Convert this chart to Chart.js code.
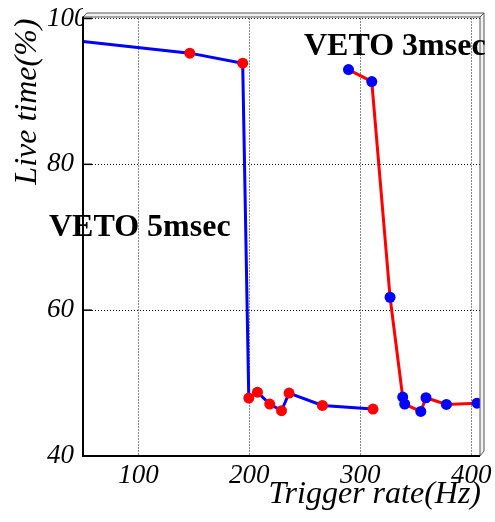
<!DOCTYPE html>
<html>
<head>
<meta charset="utf-8">
<style>
  html, body { margin: 0; padding: 0; background: #fff; }
</style>
</head>
<body>
<canvas id="liveTime" width="495" height="522"></canvas>
<script src="https://cdn.jsdelivr.net/npm/chart.js"></script>
<script>
  // VETO 5msec run: first entry is where the curve leaves the frame (no marker)
  const veto5Rate = [50, 146.3, 194.0, 199.5, 207.3, 218.4, 229.0, 235.8, 265.9, 311.5];
  const veto5Live = [96.84, 95.25, 93.87, 47.95, 48.76, 47.12, 46.21, 48.63, 46.94, 46.43];

  // VETO 3msec run
  const veto3Rate = [289.4, 310.4, 326.9, 338.3, 340.1, 354.6, 359.3, 377.7, 405.3];
  const veto3Live = [92.99, 91.35, 61.77, 48.08, 47.12, 46.11, 47.99, 47.07, 47.25];

  const xTicks = [100, 200, 300, 400];
  const yTicks = [40, 60, 80, 100];

  const serif = "'Liberation Serif', 'Times New Roman', serif";

  function toPoints(xs, ys) {
    return xs.map((x, i) => ({ x: x, y: ys[i] }));
  }

  // frame, inside tick marks, axis titles and labels
  const framePlugin = {
    id: "frame",
    afterDatasetsDraw(chart) {
      const { ctx, chartArea: a, scales } = chart;
      const l = a.left, r = a.right, t = a.top, b = a.bottom;
      ctx.save();

      // bevelled top and right edge
      ctx.lineWidth = 1;
      ctx.strokeStyle = "#555";
      ctx.fillStyle = "#f2f2f2";
      ctx.beginPath();
      ctx.moveTo(l, t - 1.5);
      ctx.lineTo(l + 4, t - 5.5);
      ctx.lineTo(r + 4, t - 5.5);
      ctx.lineTo(r, t - 1.5);
      ctx.closePath();
      ctx.fill();
      ctx.stroke();
      ctx.beginPath();
      ctx.moveTo(r, t - 1.5);
      ctx.lineTo(r + 4, t - 5.5);
      ctx.lineTo(r + 4, b - 5);
      ctx.lineTo(r, b);
      ctx.closePath();
      ctx.fill();
      ctx.stroke();

      // axes
      ctx.strokeStyle = "#000";
      ctx.lineWidth = 2;
      ctx.beginPath();
      ctx.moveTo(l, t - 2);
      ctx.lineTo(l, b);
      ctx.lineTo(r, b);
      ctx.stroke();

      // y tick marks point inward
      ctx.lineWidth = 1.5;
      yTicks.forEach(v => {
        const py = scales.y.getPixelForValue(v);
        ctx.beginPath();
        ctx.moveTo(l, py);
        ctx.lineTo(l + 9, py);
        ctx.stroke();
      });

      ctx.fillStyle = "#000";
      ctx.font = "italic 32px " + serif;
      ctx.textAlign = "right";
      ctx.textBaseline = "alphabetic";
      ctx.fillText("Trigger rate(Hz)", r + 1, 503);

      ctx.save();
      ctx.translate(36, t);
      ctx.rotate(-Math.PI / 2);
      ctx.fillText("Live time(%)", 0, 0);
      ctx.restore();

      ctx.font = "bold 32px " + serif;
      ctx.textAlign = "left";
      ctx.fillText("VETO 5msec", 49, 236);
      ctx.fillText("VETO 3msec", 304, 55);

      ctx.restore();
    }
  };

  new Chart(document.getElementById("liveTime"), {
    type: "line",
    data: {
      datasets: [
        {
          label: "VETO 5msec",
          data: toPoints(veto5Rate, veto5Live),
          borderColor: "#0000ff",
          borderWidth: 3,
          backgroundColor: "#ff0000",
          pointBackgroundColor: "#ff0000",
          pointBorderWidth: 0,
          pointRadius: c => (c.dataIndex === 0 ? 0 : 5.5),
          tension: 0,
          clip: false,
        },
        {
          label: "VETO 3msec",
          data: toPoints(veto3Rate, veto3Live),
          borderColor: "#ff0000",
          borderWidth: 3,
          backgroundColor: "#0000ff",
          pointBackgroundColor: "#0000ff",
          pointBorderWidth: 0,
          pointRadius: 5.5,
          tension: 0,
          clip: false,
        },
      ],
    },
    options: {
      responsive: false,
      animation: false,
      layout: { padding: { left: 47, right: 15, top: 18.5, bottom: 0 } },
      plugins: {
        legend: { display: false },
        tooltip: { enabled: false },
      },
      scales: {
        x: {
          type: "linear",
          min: 50,
          max: 408,
          afterBuildTicks: s => { s.ticks = xTicks.map(v => ({ value: v })); },
          afterFit: s => { s.height = 66; s.paddingLeft = 0; s.paddingRight = 0; },
          grid: { color: "#111", lineWidth: 1, drawTicks: false },
          border: { display: false, dash: [1, 2] },
          ticks: {
            padding: 4,
            color: "#000",
            font: { family: serif, style: "italic", size: 27 },
          },
        },
        y: {
          type: "linear",
          min: 40,
          max: 100,
          afterBuildTicks: s => { s.ticks = yTicks.map(v => ({ value: v })); },
          afterFit: s => { s.width = 36; s.paddingTop = 0; s.paddingBottom = 0; },
          grid: { color: "#111", lineWidth: 1, drawTicks: false },
          border: { display: false, dash: [1, 2] },
          ticks: {
            crossAlign: "far",
            padding: 0,
            color: "#000",
            font: { family: serif, style: "italic", size: 27 },
          },
        },
      },
    },
    plugins: [framePlugin],
  });
</script>
</body>
</html>
